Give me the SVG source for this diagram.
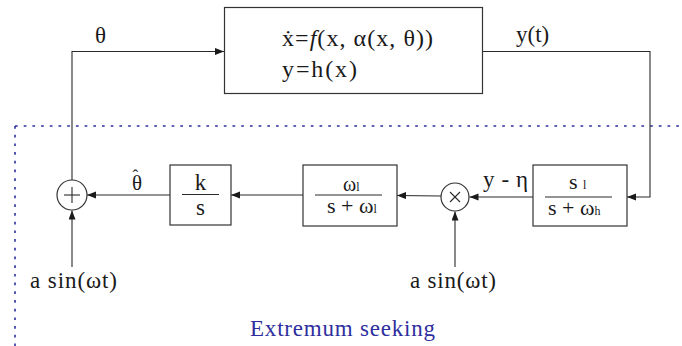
<svg xmlns="http://www.w3.org/2000/svg" width="682" height="346" viewBox="0 0 682 346">
<style>
.ln{fill:none;stroke:#2a2a2a;stroke-width:1.1}
.bx{fill:#fff;stroke:#333;stroke-width:1.2}
text{font-family:"Liberation Serif","DejaVu Serif",serif;fill:#1a1a1a}
.dot{fill:none;stroke:#2e2e9e;stroke-width:1.6;stroke-dasharray:2.7 6}
</style>
<defs>
<marker id="ah" markerUnits="userSpaceOnUse" markerWidth="10" markerHeight="8" refX="9" refY="3.5" orient="auto">
<path d="M0,0 L9,3.5 L0,7 z" fill="#1a1a1a"/>
</marker>
</defs>
<rect width="682" height="346" fill="#fff"/>
<g id="boundary">
<line class="dot" x1="15" y1="126" x2="682" y2="126"/>
<line class="dot" x1="15" y1="126" x2="15" y2="346"/>
<text x="250" y="336" font-family="Liberation Serif, serif" font-size="23" style="fill:#2e2e9e" textLength="185">Extremum seeking</text>
</g>
<g id="connectors">
<polyline class="ln" points="72,180 72,51.5 224,51.5" marker-end="url(#ah)"/>
<polyline class="ln" points="483,51.5 650,51.5 650,197 627,197" marker-end="url(#ah)"/>
<line class="ln" x1="533" y1="197" x2="469.5" y2="197" marker-end="url(#ah)"/>
<line class="ln" x1="455" y1="267" x2="455" y2="211.5" marker-end="url(#ah)"/>
<line class="ln" x1="441" y1="196" x2="397" y2="195.5" marker-end="url(#ah)"/>
<line class="ln" x1="303" y1="195" x2="231" y2="195" marker-end="url(#ah)"/>
<line class="ln" x1="170" y1="195" x2="87" y2="195" marker-end="url(#ah)"/>
<line class="ln" x1="72" y1="267" x2="72" y2="210.5" marker-end="url(#ah)"/>
<text x="95" y="43" font-size="23">θ</text>
<text x="516" y="42" font-size="23">y(t)</text>
<text x="483" y="187" font-size="23" textLength="45">y - η</text>
<text x="132" y="190" font-size="21">θ<tspan dx="-9.5" dy="-9" font-size="17">ˆ</tspan></text>
<text x="30" y="288" font-size="23" textLength="87">a sin(ωt)</text>
<text x="410" y="288" font-size="23" textLength="86">a sin(ωt)</text>
</g>
<g id="plant">
<rect class="bx" x="224.5" y="7.5" width="258" height="86"/>
<text x="282" y="46" font-size="24" textLength="151">ẋ=<tspan font-style="italic">f</tspan>(x, α(x, θ))</text>
<text x="282" y="77" font-size="24" textLength="75">y=h(x)</text>
</g>
<g id="sum">
<circle class="bx" cx="72" cy="195" r="15"/>
<line class="ln" x1="64" y1="195" x2="80" y2="195"/>
<line class="ln" x1="72" y1="187" x2="72" y2="203"/>
</g>
<g id="integrator">
<rect class="bx" x="170" y="165" width="61" height="60"/>
<text x="200.5" y="190" font-size="23" text-anchor="middle">k</text>
<line class="ln" x1="182" y1="194.5" x2="219" y2="194.5"/>
<text x="200.5" y="215" font-size="23" text-anchor="middle">s</text>
</g>
<g id="lowpass">
<rect class="bx" x="303" y="165" width="94" height="61"/>
<text x="343" y="191" font-size="20">ω<tspan font-size="12">l</tspan></text>
<line class="ln" x1="315" y1="195" x2="382" y2="195"/>
<text x="327" y="213" font-size="22">s + ω<tspan font-size="12">l</tspan></text>
</g>
<g id="multiplier">
<circle class="bx" cx="455" cy="197" r="14"/>
<line class="ln" x1="450" y1="192" x2="460" y2="202"/>
<line class="ln" x1="460" y1="192" x2="450" y2="202"/>
</g>
<g id="highpass">
<rect class="bx" x="533" y="165" width="94" height="61"/>
<text x="569" y="189" font-size="22">s <tspan font-size="12">l</tspan></text>
<line class="ln" x1="545" y1="197" x2="612" y2="197"/>
<text x="548" y="215" font-size="22">s + ω<tspan font-size="12">h</tspan></text>
</g>
</svg>
